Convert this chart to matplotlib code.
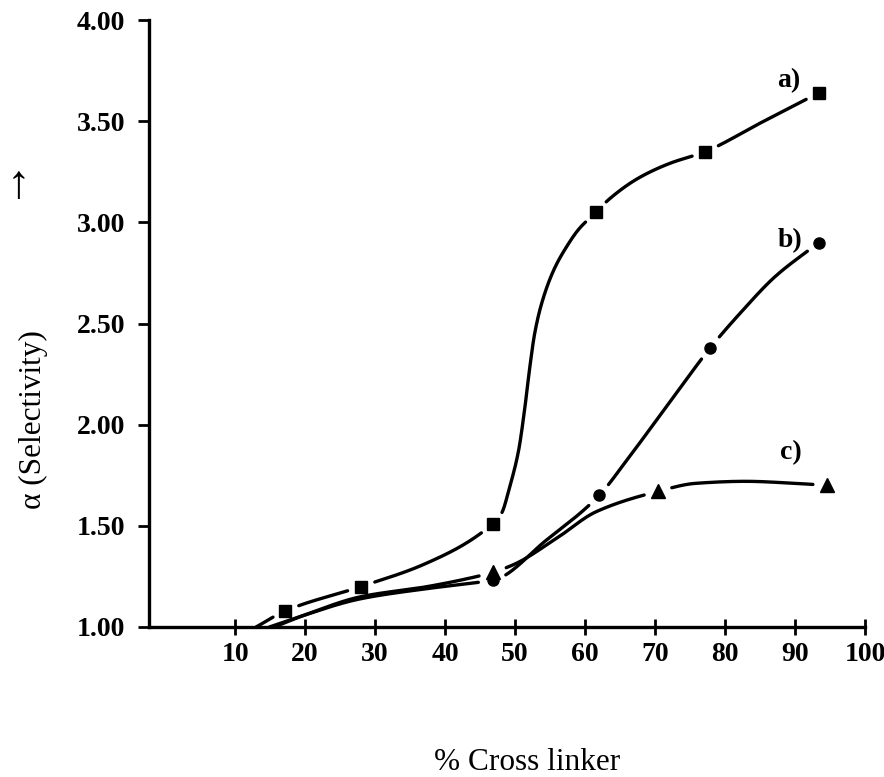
import numpy as np
import matplotlib
matplotlib.use("Agg")
import matplotlib.pyplot as plt

plt.rcParams['font.family'] = ['Liberation Serif', 'DejaVu Serif']

# ---- data: marker points ----
a_x = [17.2, 28.0, 46.8, 61.6, 77.2, 93.4]
a_y = [1.08, 1.20, 1.51, 3.05, 3.35, 3.64]
b_x = [46.8, 62.0, 77.9, 93.4]
b_y = [1.23, 1.65, 2.38, 2.90]
c_x = [46.8, 70.4, 94.6]
c_y = [1.27, 1.67, 1.70]

# ---- hand-drawn curve traces ----
a_trace_x = [13.0, 17.2, 28.0, 37.0, 46.8, 48.1, 49.2, 50.5, 51.4, 52.1, 52.8, 53.8, 55.5, 57.3, 59.2, 61.6, 63.3, 67.7, 72.0, 77.2, 85.0, 93.4]
a_trace_y = [1.00, 1.08, 1.20, 1.31, 1.51, 1.564, 1.688, 1.871, 2.084, 2.282, 2.450, 2.599, 2.762, 2.876, 2.970, 3.05, 3.11, 3.22, 3.29, 3.35, 3.49, 3.64]
b_trace_x = [14.9, 18.7, 28.0, 37.5, 44.6, 46.8, 54.5, 62.0, 66.3, 72.5, 77.9, 82.4, 87.1, 93.4]
b_trace_y = [1.00, 1.045, 1.14, 1.19, 1.22, 1.23, 1.43, 1.65, 1.84, 2.13, 2.38, 2.56, 2.73, 2.90]
c_trace_x = [15.6, 20.0, 28.0, 37.5, 44.6, 46.8, 49.9, 56.0, 61.6, 70.4, 75.8, 82.9, 90.0, 94.6]
c_trace_y = [1.00, 1.06, 1.15, 1.20, 1.25, 1.27, 1.31, 1.44, 1.57, 1.67, 1.71, 1.72, 1.71, 1.70]

series_labels = ['a)', 'b)', 'c)']
label_pos = [(89.1, 3.70), (89.3, 2.91), (89.4, 1.86)]

x_ticks = [10, 20, 30, 40, 50, 60, 70, 80, 90, 100]
y_ticks = [1.00, 1.50, 2.00, 2.50, 3.00, 3.50, 4.00]


def pchip(x, y, xs):
    x = np.asarray(x, float); y = np.asarray(y, float)
    h = np.diff(x); d = np.diff(y) / h
    n = len(x)
    m = np.zeros(n)
    for k in range(1, n - 1):
        if d[k - 1] * d[k] <= 0:
            m[k] = 0
        else:
            w1 = 2 * h[k] + h[k - 1]; w2 = h[k] + 2 * h[k - 1]
            m[k] = (w1 + w2) / (w1 / d[k - 1] + w2 / d[k])
    m[0] = d[0]; m[-1] = d[-1]
    idx = np.clip(np.searchsorted(x, xs) - 1, 0, n - 2)
    t = (xs - x[idx]) / h[idx]
    h00 = 2 * t**3 - 3 * t**2 + 1; h10 = t**3 - 2 * t**2 + t
    h01 = -2 * t**3 + 3 * t**2; h11 = t**3 - t**2
    return h00 * y[idx] + h10 * h[idx] * m[idx] + h01 * y[idx + 1] + h11 * h[idx] * m[idx + 1]


fig = plt.figure(figsize=(8.84, 7.77), dpi=100)
ax = fig.add_axes([149 / 884, (777 - 627) / 777, (865 - 149) / 884, (627 - 20) / 777])
ax.set_xlim(-2.3, 100)
ax.set_ylim(1.0, 4.0)

for s in ['top', 'right']:
    ax.spines[s].set_visible(False)
for s in ['left', 'bottom']:
    ax.spines[s].set_linewidth(2.4)

ax.set_xticks(x_ticks)
ax.set_xticklabels([str(v) for v in x_ticks])
ax.set_yticks(y_ticks)
ax.set_yticklabels([f"{v:.2f}" for v in y_ticks])
ax.tick_params(axis='x', direction='inout', length=11, width=2, pad=5)
ax.tick_params(axis='y', direction='out', length=8, width=2, pad=9)
for lab in ax.get_xticklabels() + ax.get_yticklabels():
    lab.set_fontsize(20)
    lab.set_fontweight('bold')

fig.canvas.draw()
trans = ax.transData

series = [
    (a_trace_x, a_trace_y, a_x, a_y, 's', 9),
    (b_trace_x, b_trace_y, b_x, b_y, 'o', 8),
    (c_trace_x, c_trace_y, c_x, c_y, '^', 10),
]
gap_px = 14
for tx, ty, mx, my, mk, ms in series:
    xs = np.linspace(tx[0], tx[-1], 1200)
    ys = pchip(tx, ty, xs)
    pts = trans.transform(np.column_stack([xs, ys]))
    mpts = trans.transform(np.column_stack([mx, my]))
    mask = np.zeros(len(xs), bool)
    for p in mpts:
        mask |= np.hypot(pts[:, 0] - p[0], pts[:, 1] - p[1]) < gap_px
    yplot = ys.copy()
    yplot[mask] = np.nan
    ax.plot(xs, yplot, color='black', lw=2.4, solid_capstyle='round', clip_on=False)
    ax.plot(mx, my, linestyle='none', marker=mk, markersize=ms, color='black', clip_on=False)

for lab, (lx, ly) in zip(series_labels, label_pos):
    ax.text(lx, ly, lab, fontsize=20, fontweight='bold', ha='center', va='center')

fig.text(527 / 884, 1 - 763 / 777, '% Cross linker', fontsize=22.5, ha='center', va='center')
fig.text(33 / 884, 1 - 420 / 777, 'α (Selectivity)', fontsize=22.5, ha='center', va='center', rotation=90)
fig.text(18 / 884, 1 - 187 / 777, '↑', fontsize=34, fontweight='bold', ha='center', va='center')

fig.savefig('out.png', dpi=100)
